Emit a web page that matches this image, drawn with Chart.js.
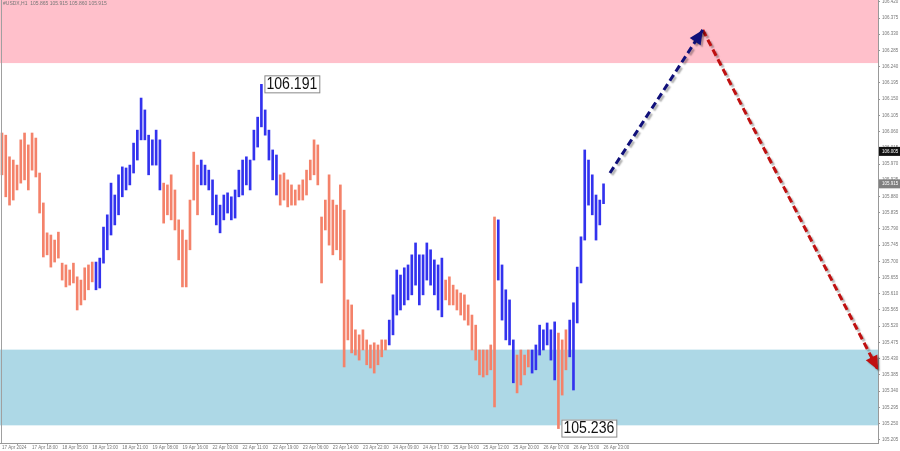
<!DOCTYPE html>
<html><head><meta charset="utf-8">
<script src="https://cdn.jsdelivr.net/npm/chart.js@4.4.1/dist/chart.umd.min.js"></script>
<style>html,body{margin:0;padding:0;background:#fff;overflow:hidden}</style>
</head><body>
<canvas id="c" width="900" height="451"></canvas>
<script>
// ---------- DATA ----------
const symbolTitle = '#USDX,H1  105.865 105.915 105.860 105.915';
const timeLabels = ['17 Apr 2024','17 Apr 18:00','18 Apr 05:00','18 Apr 13:00','18 Apr 21:00','19 Apr 08:00','19 Apr 16:00','22 Apr 03:00','22 Apr 11:00','22 Apr 19:00','23 Apr 06:00','23 Apr 14:00','23 Apr 22:00','24 Apr 09:00','24 Apr 17:00','25 Apr 04:00','25 Apr 12:00','25 Apr 20:00','26 Apr 07:00','26 Apr 15:00','26 Apr 23:00'];
const barsPerLabel = 8;
const highs = [
106.056,106.050,105.990,105.981,105.967,106.037,106.056,106.023,106.056,106.042,105.945,105.862,105.779,105.773,105.759,105.781,105.695,105.690,105.676,105.695,105.657,105.648,105.682,105.690,105.698,
105.698,105.709,105.795,105.829,105.917,105.884,105.940,105.962,105.959,105.967,106.028,106.064,106.153,106.120,106.050,106.037,106.064,106.037,
105.917,105.912,105.940,105.898,105.815,105.787,105.759,105.870,106.003,105.967,
105.981,105.967,105.953,105.926,105.884,105.856,105.884,105.890,105.879,105.898,105.953,105.981,105.990,105.981,106.064,106.100,106.191,106.120,106.064,106.009,105.995,
105.940,105.945,105.926,105.912,105.898,105.912,105.926,105.953,105.981,106.037,106.023,105.823,105.870,105.940,105.870,105.856,105.912,105.842,105.593,105.579,105.510,105.496,105.510,105.482,105.468,105.474,105.468,105.482,105.482,
105.537,105.607,105.676,105.662,105.682,105.690,105.718,105.751,105.718,105.718,105.751,105.732,105.704,105.690,105.709,
105.648,105.657,105.634,105.621,105.612,105.607,105.579,105.551,105.523,105.454,105.454,105.454,105.468,105.823,
105.815,105.690,105.621,105.593,105.482,
105.440,105.454,105.440,105.454,
105.454,105.468,105.523,105.510,105.529,105.510,105.532,
105.501,105.482,105.510,
105.537,105.585,105.684,105.768,106.009,105.981,105.940,105.884,105.870,105.915];
const lows = [
105.940,105.879,105.856,105.870,105.898,105.917,105.926,105.898,105.953,105.934,105.834,105.712,105.718,105.684,105.698,105.709,105.648,105.629,105.634,105.640,105.565,105.579,105.593,105.621,105.643,
105.621,105.626,105.695,105.732,105.773,105.801,105.829,105.879,105.898,105.912,105.945,105.981,106.037,106.037,105.940,105.967,105.967,105.898,
105.806,105.829,105.815,105.787,105.704,105.629,105.629,105.732,105.870,105.829,
105.912,105.912,105.898,105.829,105.801,105.779,105.815,105.834,105.815,105.820,105.879,105.884,105.912,105.898,105.981,106.017,106.073,106.050,105.981,105.926,105.884,
105.856,105.870,105.851,105.856,105.856,105.870,105.870,105.884,105.926,105.940,105.912,105.640,105.787,105.745,105.718,105.732,105.704,105.407,105.482,105.446,105.440,105.426,105.454,105.413,105.404,105.390,105.413,105.435,105.454,
105.468,105.496,105.551,105.565,105.579,105.593,105.607,105.634,105.579,105.607,105.648,105.634,105.607,105.565,105.546,
105.593,105.579,105.579,105.565,105.551,105.537,105.523,105.454,105.426,105.385,105.379,105.385,105.399,105.296,
105.648,105.537,105.482,105.468,105.363,
105.335,105.357,105.385,105.407,
105.390,105.399,105.440,105.454,105.468,105.426,105.371,
105.236,105.329,105.399,
105.435,105.343,105.529,105.640,105.759,105.856,105.829,105.759,105.801,105.860];
const waveStarts = [0,25,43,53,74,103,118,132,137,141,148,151];
const waveDirs = ['down','up','down','up','down','up','down','up','down','up','down','up'];
const resistanceZone = [106.250, 106.500];
const supportZone = [105.245, 105.455];
const upArrow = [{x:161.7, y:105.945},{x:186.4, y:106.342}];
const downArrow = [{x:186.4, y:106.342},{x:233.0, y:105.399}];
const extremeLabels = [{i:69, v:106.191},{i:148, v:105.236}];
const yTickStart = 105.205, yTickStep = 0.045, yTickCount = 28;
const axisPriceMarks = [106.005, 105.915];
const yMin = 105.196, yMax = 106.425;
const xMin = -0.53, xMax = 233.0;

// ---------- BUILD ----------
function dirOf(i){ let k=0; for(let j=0;j<waveStarts.length;j++){ if(i>=waveStarts[j]) k=j; } return waveDirs[k]; }
const downData=[], upData=[];
for(let i=0;i<highs.length;i++){
  const pt={x:i, y:[lows[i], highs[i]]};
  if(dirOf(i)==='down') downData.push(pt); else upData.push(pt);
}
const COL_DOWN='#F4826A', COL_UP='#3232EE';
const AXIS_FONT='"Liberation Sans", Arial, sans-serif';

const zonesPlugin={
  id:'zones',
  beforeDatasetsDraw(chart){
    const {ctx, chartArea:a, scales:{y}}=chart;
    ctx.save();
    ctx.beginPath(); ctx.rect(a.left,a.top,a.right-a.left,a.bottom-a.top); ctx.clip();
    const z=(r,c)=>{const y1=y.getPixelForValue(r[1]), y0=y.getPixelForValue(r[0]); ctx.fillStyle=c; ctx.fillRect(a.left,y1,a.right-a.left,y0-y1);};
    z(resistanceZone,'#FFC0CB');
    z(supportZone,'#ADD8E6');
    ctx.restore();
    ctx.save();
    ctx.font='5px '+AXIS_FONT; ctx.fillStyle='#777'; ctx.textBaseline='middle'; ctx.textAlign='left';
    ctx.fillText(symbolTitle, a.left+3, a.top+4);
    ctx.restore();
  },
  beforeDatasetDraw(chart,args){
    const ds=chart.data.datasets[args.index];
    if(ds.isArrow){ const ctx=chart.ctx; ctx.save(); ctx.shadowColor='rgba(0,0,0,0.3)'; ctx.shadowOffsetX=2; ctx.shadowOffsetY=2; ctx.shadowBlur=1.5; }
  },
  afterDatasetDraw(chart,args){
    const ds=chart.data.datasets[args.index];
    const ctx=chart.ctx;
    if(ds.isArrow){
      const pts=chart.getDatasetMeta(args.index).data;
      const p1=pts[pts.length-2], p2=pts[pts.length-1];
      const ang=Math.atan2(p2.y-p1.y,p2.x-p1.x);
      const L=14, W=6.5;
      ctx.setLineDash([]);
      ctx.fillStyle=ds.borderColor;
      ctx.beginPath();
      ctx.moveTo(p2.x,p2.y);
      ctx.lineTo(p2.x-L*Math.cos(ang)+W*Math.sin(ang), p2.y-L*Math.sin(ang)-W*Math.cos(ang));
      ctx.lineTo(p2.x-L*Math.cos(ang)-W*Math.sin(ang), p2.y-L*Math.sin(ang)+W*Math.cos(ang));
      ctx.closePath(); ctx.fill();
      ctx.restore();
    }
  },
  afterDraw(chart){
    const {ctx, chartArea:a, scales:{x,y}}=chart;
    ctx.save();
    ctx.strokeStyle='#a0a0a0'; ctx.lineWidth=1;
    ctx.beginPath(); ctx.moveTo(a.left+1.5,a.top); ctx.lineTo(a.left+1.5,a.bottom); ctx.stroke();
    // extreme labels
    const sx=0.88;
    ctx.font='16px "Liberation Sans", Arial, sans-serif';
    ctx.textBaseline='middle'; ctx.textAlign='left';
    extremeLabels.forEach(l=>{
      const px=x.getPixelForValue(l.i)+3, py=y.getPixelForValue(l.v);
      const t=l.v.toFixed(3); const w=ctx.measureText(t).width*sx+4;
      ctx.fillStyle='#fff'; ctx.fillRect(px,py-9,w,18);
      ctx.strokeStyle='#888'; ctx.lineWidth=1; ctx.strokeRect(px+0.5,py-8.5,w,17);
      ctx.save(); ctx.translate(px+2,py+0.5); ctx.scale(sx,1);
      ctx.fillStyle='#111'; ctx.fillText(t,0,0); ctx.restore();
    });
    ctx.font='4.5px '+AXIS_FONT;
    axisPriceMarks.forEach((v,k)=>{
      const py=y.getPixelForValue(v);
      ctx.fillStyle=k===0?'#111':'#808080';
      ctx.fillRect(a.right+1,py-4.5,21,9);
      ctx.fillStyle='#fff'; ctx.fillText(v.toFixed(3),a.right+4,py);
    });
    ctx.restore();
  }
};

new Chart(document.getElementById('c'),{
  type:'bar',
  data:{datasets:[
    {label:'down', data:downData, backgroundColor:COL_DOWN, barThickness:2, grouped:false, borderWidth:0},
    {label:'up', data:upData, backgroundColor:COL_UP, barThickness:2, grouped:false, borderWidth:0},
    {type:'line', label:'up projection', data:upArrow, isArrow:true, borderColor:'#10107A', borderWidth:3, borderDash:[7,4], pointRadius:0, fill:false, tension:0},
    {type:'line', label:'down projection', data:downArrow, isArrow:true, borderColor:'#C01010', borderWidth:3, borderDash:[7,4], pointRadius:0, fill:false, tension:0}
  ]},
  options:{
    responsive:false, animation:false, devicePixelRatio:1,
    layout:{padding:0},
    plugins:{legend:{display:false}, tooltip:{enabled:false}, title:{display:false}},
    scales:{
      x:{type:'linear', min:xMin, max:xMax, bounds:'data', offset:false,
        grid:{display:true, drawOnChartArea:false, drawTicks:true, tickLength:2, color:'#999'},
        border:{display:true, color:'#999'},
        afterBuildTicks(s){ s.ticks=timeLabels.map((_,k)=>({value:k*barsPerLabel})); },
        afterFit(s){ s.height=8; s.paddingLeft=0; s.paddingRight=0; },
        ticks:{autoSkip:false, maxRotation:0, minRotation:0, align:'start', padding:0, color:'#777', font:{size:4.5, family:AXIS_FONT},
          callback:(v)=>timeLabels[Math.round(v/barsPerLabel)]}
      },
      y:{type:'linear', position:'right', min:yMin, max:yMax, bounds:'data',
        grid:{display:true, drawOnChartArea:false, drawTicks:true, tickLength:2, color:'#999'},
        border:{display:true, color:'#999'},
        afterBuildTicks(s){ const t=[]; for(let k=0;k<yTickCount;k++) t.push({value:+(yTickStart+k*yTickStep).toFixed(3)}); s.ticks=t; },
        afterFit(s){ s.width=22; s.paddingTop=0; s.paddingBottom=0; },
        ticks:{padding:2, color:'#777', font:{size:4.5, family:AXIS_FONT}, callback:(v)=>v.toFixed(3)}
      }
    }
  },
  plugins:[zonesPlugin]
});
</script>
</body></html>
